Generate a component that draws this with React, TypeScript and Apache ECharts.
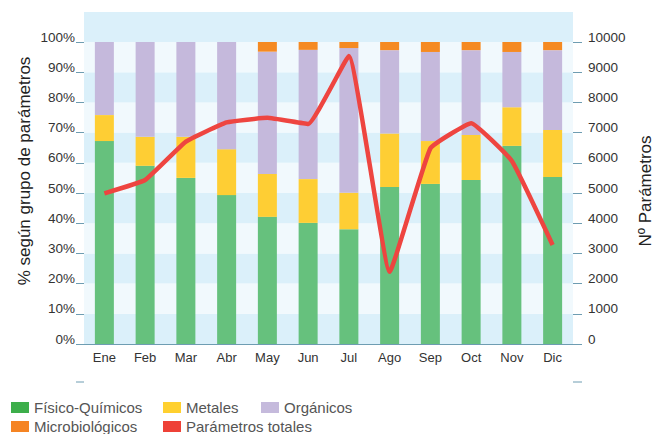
import React, { useEffect, useRef } from "react";
import * as echarts from "echarts";

const months = ["Ene", "Feb", "Mar", "Abr", "May", "Jun", "Jul", "Ago", "Sep", "Oct", "Nov", "Dic"];
const fisicoQuimicos = [67.2, 59.0, 55.0, 49.3, 42.1, 40.1, 38.0, 52.0, 53.0, 54.3, 65.6, 55.3];
const metales = [8.6, 9.6, 13.6, 15.2, 14.2, 14.5, 12.1, 17.7, 14.2, 14.9, 12.8, 15.6];
const organicos = [24.2, 31.4, 31.4, 35.5, 40.5, 42.8, 47.9, 27.6, 29.5, 28.1, 18.3, 26.4];
const microbiologicos = [0, 0, 0, 0, 3.2, 2.6, 2.0, 2.7, 3.3, 2.7, 3.3, 2.7];
const parametrosTotales = [4990, 5430, 6700, 7340, 7490, 7285, 9540, 2390, 6480, 7310, 6060, 3280];
const percentTicks = [0, 10, 20, 30, 40, 50, 60, 70, 80, 90, 100];
const countTicks = [0, 1000, 2000, 3000, 4000, 5000, 6000, 7000, 8000, 9000, 10000];

const FONT = "Liberation Sans";
const TICK = "#6e9db2";

export default function App() {
  const ref = useRef<HTMLDivElement>(null);
  useEffect(() => {
    if (!ref.current) return;
    const chart = echarts.init(ref.current, null, { renderer: "svg" });
    const legendItem = (name: string, color: string, left: number, top: number) => ({
      left,
      top,
      padding: 0,
      itemWidth: 18,
      itemHeight: 11,
      icon: "rect",
      selectedMode: false,
      data: [{ name, itemStyle: { color }, lineStyle: { color }, icon: "rect" }],
      textStyle: { fontFamily: FONT, fontSize: 15, color: "#555" },
    });
    chart.setOption({
      animation: false,
      textStyle: { fontFamily: FONT },
      grid: { left: 84, right: 80, top: 42, bottom: 90, containLabel: false },
      legend: [
        legendItem("Físico-Químicos", "#3dae4b", 11, 400),
        legendItem("Metales", "#ffd02f", 163, 400),
        legendItem("Orgánicos", "#c5badc", 261, 400),
        legendItem("Microbiológicos", "#f58423", 11, 419),
        legendItem("Parámetros totales", "#ee4137", 163, 419),
      ],
      graphic: [
        { type: "rect", z: -10, shape: { x: 84, y: 12, width: 489, height: 30 }, style: { fill: "#dbf0fa" } },
        { type: "line", shape: { x1: 76, y1: 382, x2: 84, y2: 382 }, style: { stroke: TICK, lineWidth: 1 } },
        { type: "line", shape: { x1: 573, y1: 382, x2: 582, y2: 382 }, style: { stroke: TICK, lineWidth: 1 } },
        {
          type: "text",
          x: 24,
          y: 171,
          rotation: Math.PI / 2,
          style: { text: "% según grupo de parámetros", fontFamily: FONT, fontSize: 17, fill: "#222", textAlign: "center", textVerticalAlign: "middle" },
        },
        {
          type: "text",
          x: 645,
          y: 191,
          rotation: Math.PI / 2,
          style: { text: "Nº Parámetros", fontFamily: FONT, fontSize: 17, fill: "#222", textAlign: "center", textVerticalAlign: "middle" },
        },
      ],
      xAxis: {
        type: "category",
        data: months,
        boundaryGap: true,
        axisLine: { lineStyle: { color: TICK, width: 1 } },
        axisTick: { show: false },
        axisLabel: { color: "#333", fontSize: 13, margin: 7, fontFamily: FONT },
      },
      yAxis: [
        {
          type: "value",
          min: percentTicks[0],
          max: percentTicks[percentTicks.length - 1],
          interval: 10,
          axisLine: { show: false },
          axisTick: { show: true, length: 8, lineStyle: { color: TICK } },
          splitLine: { show: false },
          splitArea: { show: true, areaStyle: { color: ["#dbf0fa", "#f1f9fd"] } },
          axisLabel: {
            color: "#333",
            fontSize: 13.5,
            margin: 9,
            fontFamily: FONT,
            verticalAlign: "bottom",
            lineHeight: 10,
            formatter: (v: number) => v + "%",
          },
        },
        {
          type: "value",
          min: countTicks[0],
          max: countTicks[countTicks.length - 1],
          interval: 1000,
          position: "right",
          axisLine: { show: false },
          axisTick: { show: true, length: 9, lineStyle: { color: TICK } },
          splitLine: { show: false },
          axisLabel: {
            color: "#333",
            fontSize: 13.5,
            margin: 15,
            fontFamily: FONT,
            verticalAlign: "bottom",
            lineHeight: 10,
            formatter: (v: number) => String(v),
          },
        },
      ],
      series: [
        { name: "Físico-Químicos", type: "bar", stack: "p", data: fisicoQuimicos, barWidth: 19, itemStyle: { color: "#66c17d" } },
        { name: "Metales", type: "bar", stack: "p", data: metales, barWidth: 19, itemStyle: { color: "#fece34" } },
        { name: "Orgánicos", type: "bar", stack: "p", data: organicos, barWidth: 19, itemStyle: { color: "#c5b9dc" } },
        { name: "Microbiológicos", type: "bar", stack: "p", data: microbiologicos, barWidth: 19, itemStyle: { color: "#f58a22" } },
        {
          name: "Parámetros totales",
          type: "line",
          yAxisIndex: 1,
          data: parametrosTotales,
          smooth: 0.1,
          showSymbol: false,
          symbol: "none",
          lineStyle: { color: "#ee4540", width: 4.5 },
          itemStyle: { color: "#ee4540" },
          z: 5,
        },
      ],
    });
    return () => chart.dispose();
  }, []);
  return <div ref={ref} style={{ width: 653, height: 434, position: "absolute", left: 0, top: 0 }} />;
}
